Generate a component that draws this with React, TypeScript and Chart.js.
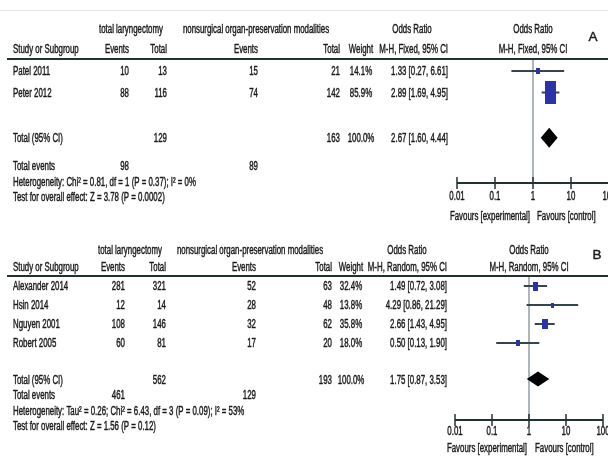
import React, { useEffect, useRef } from 'react';
import { Chart, registerables } from 'chart.js';

Chart.register(...registerables);

// ---------- Panel A (fixed-effect model) ----------
const STUDIES_A = ['Patel 2011', 'Peter 2012'];
const TL_EVENTS_A = [10, 88];
const TL_TOTAL_A = [13, 116];
const NS_EVENTS_A = [15, 74];
const NS_TOTAL_A = [21, 142];
const WEIGHT_A = [14.1, 85.9];
const OR_A = [1.33, 2.89];
const OR_LOW_A = [0.27, 1.69];
const OR_HIGH_A = [6.61, 4.95];
const POOLED_A = [2.67, 1.6, 4.44]; // estimate, lower, upper
const TOTALS_A = [129, 163];
const TOTAL_EVENTS_A = [98, 89];
const HETEROGENEITY_A = 'Heterogeneity: Chi² = 0.81, df = 1 (P = 0.37); I² = 0%';
const OVERALL_A = 'Test for overall effect: Z = 3.78 (P = 0.0002)';

// ---------- Panel B (random-effects model) ----------
const STUDIES_B = ['Alexander 2014', 'Hsin 2014', 'Nguyen 2001', 'Robert 2005'];
const TL_EVENTS_B = [281, 12, 108, 60];
const TL_TOTAL_B = [321, 14, 146, 81];
const NS_EVENTS_B = [52, 28, 32, 17];
const NS_TOTAL_B = [63, 48, 62, 20];
const WEIGHT_B = [32.4, 13.8, 35.8, 18.0];
const OR_B = [1.49, 4.29, 2.66, 0.5];
const OR_LOW_B = [0.72, 0.86, 1.43, 0.13];
const OR_HIGH_B = [3.08, 21.29, 4.95, 1.9];
const POOLED_B = [1.75, 0.87, 3.53];
const TOTALS_B = [562, 193];
const TOTAL_EVENTS_B = [461, 129];
const HETEROGENEITY_B = 'Heterogeneity: Tau² = 0.26; Chi² = 6.43, df = 3 (P = 0.09); I² = 53%';
const OVERALL_B = 'Test for overall effect: Z = 1.56 (P = 0.12)';

// ---------- shared axis ----------
const AXIS_TICKS = [0.01, 0.1, 1, 10, 100];
const AXIS_TICK_LABELS = ['0.01', '0.1', '1', '10', '100'];
const GROUP_TL = 'total laryngectomy';
const GROUP_NS = 'nonsurgical organ-preservation modalities';
const FAVOURS_LEFT = 'Favours [experimental]';
const FAVOURS_RIGHT = 'Favours [control]';

type PanelData = {
  letter: string;
  method: string;
  studies: string[];
  tlEvents: number[];
  tlTotal: number[];
  nsEvents: number[];
  nsTotal: number[];
  weight: number[];
  or: number[];
  lo: number[];
  hi: number[];
  pooled: number[];
  totals: number[];
  totalEvents: number[];
  het: string;
  overall: string;
};

const PANEL_A: PanelData = {
  letter: 'A', method: 'Fixed', studies: STUDIES_A, tlEvents: TL_EVENTS_A, tlTotal: TL_TOTAL_A,
  nsEvents: NS_EVENTS_A, nsTotal: NS_TOTAL_A, weight: WEIGHT_A, or: OR_A, lo: OR_LOW_A, hi: OR_HIGH_A,
  pooled: POOLED_A, totals: TOTALS_A, totalEvents: TOTAL_EVENTS_A, het: HETEROGENEITY_A, overall: OVERALL_A,
};

const PANEL_B: PanelData = {
  letter: 'B', method: 'Random', studies: STUDIES_B, tlEvents: TL_EVENTS_B, tlTotal: TL_TOTAL_B,
  nsEvents: NS_EVENTS_B, nsTotal: NS_TOTAL_B, weight: WEIGHT_B, or: OR_B, lo: OR_LOW_B, hi: OR_HIGH_B,
  pooled: POOLED_B, totals: TOTALS_B, totalEvents: TOTAL_EVENTS_B, het: HETEROGENEITY_B, overall: OVERALL_B,
};

type PanelLayout = {
  canvasW: number;
  canvasH: number;
  plotLeft: number;
  plotRight: number;
  plotTop: number;
  plotBottom: number;
  firstRowY: number;
  pitch: number;
  totalGap: number;
  header1Y: number;
  header2Y: number;
  letterX: number;
  letterY: number;
  colStudy: number;
  colTlEvents: number;
  colTlTotal: number;
  colNsEvents: number;
  colNsTotal: number;
  colWeight: number;
  colOr: number;
  orHeaderX: number;
  groupTlX: number;
  groupNsX: number;
  eventsDy: number;
  hetDy: number;
  overallDy: number;
  tickLabelDy: number;
  favoursDy: number;
  favoursLeftDx: number;
  favoursRightDx: number;
  squareMaxW: number;
  squareMaxH: number;
  diamondHalfH: number;
  topRuleY: number | null;
};

const LAYOUT_A: PanelLayout = {
  canvasW: 616, canvasH: 229,
  plotLeft: 457, plotRight: 609, plotTop: 59, plotBottom: 183,
  firstRowY: 71, pitch: 21.5, totalGap: 2.1,
  header1Y: 30, header2Y: 50, letterX: 593, letterY: 37,
  colStudy: 13, colTlEvents: 129, colTlTotal: 167, colNsEvents: 258, colNsTotal: 340,
  colWeight: 361, colOr: 448, orHeaderX: 412, groupTlX: 131, groupNsX: 256,
  eventsDy: 28, hetDy: 44, overallDy: 59,
  tickLabelDy: 14, favoursDy: 34, favoursLeftDx: -3, favoursRightDx: 4,
  squareMaxW: 11, squareMaxH: 23, diamondHalfH: 10,
  topRuleY: 10,
};

const LAYOUT_B: PanelLayout = {
  canvasW: 616, canvasH: 229,
  plotLeft: 455, plotRight: 603, plotTop: 47, plotBottom: 191,
  firstRowY: 57, pitch: 19, totalGap: 1.9,
  header1Y: 22, header2Y: 39, letterX: 597, letterY: 26,
  colStudy: 13, colTlEvents: 125, colTlTotal: 166, colNsEvents: 256, colNsTotal: 332,
  colWeight: 351, colOr: 447, orHeaderX: 407, groupTlX: 130, groupNsX: 250,
  eventsDy: 15, hetDy: 31, overallDy: 46,
  tickLabelDy: 12, favoursDy: 29, favoursLeftDx: -2, favoursRightDx: 6,
  squareMaxW: 5.5, squareMaxH: 10, diamondHalfH: 7.5,
  topRuleY: null,
};

const FONT_FAMILY = '"Liberation Sans", Arial, sans-serif';
const TEXT_SIZE = 12.5;
const TEXT_SQUEEZE = 0.63;
const TEXT_COLOR = '#1a1a1a';
const RULE_COLOR = '#223131';
const CI_COLOR = '#34464b';
const REF_COLOR = '#7f9095';
const SQUARE_COLOR = '#2b33a8';
const DIAMOND_COLOR = '#000000';

function drawText(
  ctx: CanvasRenderingContext2D,
  str: string,
  x: number,
  y: number,
  align: CanvasTextAlign,
  size = TEXT_SIZE,
  squeeze = TEXT_SQUEEZE,
) {
  ctx.save();
  ctx.translate(x, y);
  ctx.scale(squeeze, 1);
  ctx.font = `${size}px ${FONT_FAMILY}`;
  ctx.fillStyle = TEXT_COLOR;
  ctx.strokeStyle = TEXT_COLOR;
  ctx.lineWidth = 0.45;
  ctx.lineJoin = 'round';
  ctx.textAlign = align;
  ctx.textBaseline = 'middle';
  ctx.fillText(str, 0, 0);
  ctx.strokeText(str, 0, 0);
  ctx.restore();
}

function makeSquare(w: number, h: number): HTMLCanvasElement {
  const c = document.createElement('canvas');
  c.width = Math.max(3, Math.round(w));
  c.height = Math.max(4, Math.round(h));
  const g = c.getContext('2d')!;
  g.fillStyle = SQUARE_COLOR;
  g.fillRect(0, 0, c.width, c.height);
  return c;
}

const fmtOr = (v: number, lo: number, hi: number) => `${v.toFixed(2)} [${lo.toFixed(2)}, ${hi.toFixed(2)}]`;

function ForestPanel({ data, layout }: { data: PanelData; layout: PanelLayout }) {
  const ref = useRef<HTMLCanvasElement>(null);

  useEffect(() => {
    const canvas = ref.current;
    if (!canvas) return;
    const L = layout;
    const n = data.studies.length;
    const totalRow = n - 1 + L.totalGap;
    const yMin = (L.plotTop - L.firstRowY) / L.pitch;
    const yMax = (L.plotBottom - L.firstRowY) / L.pitch;
    const maxWeight = Math.max(...data.weight);
    const markers = data.weight.map((w) => {
      const r = w / maxWeight;
      return makeSquare(L.squareMaxW * Math.sqrt(r), L.squareMaxH * Math.pow(r, 0.75));
    });

    const datasets: any[] = data.studies.map((_, i) => ({
      type: 'line',
      data: [
        { x: data.lo[i], y: i },
        { x: data.hi[i], y: i },
      ],
      borderColor: CI_COLOR,
      borderWidth: 2,
      pointRadius: 0,
      fill: false,
      order: 2,
    }));
    datasets.push({
      type: 'scatter',
      data: data.or.map((v, i) => ({ x: v, y: i })),
      pointStyle: markers,
      pointRadius: 4,
      order: 0,
    });

    const tablePlugin = {
      id: 'forestTable',
      beforeDatasetsDraw(chart: any) {
        const { ctx, chartArea, scales } = chart;
        const refX = scales.x.getPixelForValue(1);
        ctx.save();
        ctx.strokeStyle = REF_COLOR;
        ctx.lineWidth = 1.3;
        ctx.beginPath();
        ctx.moveTo(refX, chartArea.top);
        ctx.lineTo(refX, chartArea.bottom);
        ctx.stroke();
        ctx.restore();
      },
      afterDatasetsDraw(chart: any) {
        const { ctx, chartArea, scales, width } = chart;
        const xs = scales.x;
        const ys = scales.y;
        const refX = xs.getPixelForValue(1);
        const rowY = (r: number) => ys.getPixelForValue(r) + 1;

        // pooled estimate diamond
        const dy = ys.getPixelForValue(totalRow);
        const [est, plo, phi] = data.pooled;
        ctx.save();
        ctx.fillStyle = DIAMOND_COLOR;
        ctx.beginPath();
        ctx.moveTo(xs.getPixelForValue(plo), dy);
        ctx.lineTo(xs.getPixelForValue(est), dy - L.diamondHalfH);
        ctx.lineTo(xs.getPixelForValue(phi), dy);
        ctx.lineTo(xs.getPixelForValue(est), dy + L.diamondHalfH);
        ctx.closePath();
        ctx.fill();
        ctx.restore();

        // rules
        ctx.save();
        if (L.topRuleY !== null) {
          ctx.strokeStyle = '#e6e6e6';
          ctx.lineWidth = 1;
          ctx.beginPath();
          ctx.moveTo(0, L.topRuleY + 0.5);
          ctx.lineTo(width, L.topRuleY + 0.5);
          ctx.stroke();
        }
        ctx.strokeStyle = RULE_COLOR;
        ctx.lineWidth = 2;
        ctx.beginPath();
        ctx.moveTo(7, chartArea.top);
        ctx.lineTo(width, chartArea.top);
        ctx.stroke();

        // x axis
        const axisY = chartArea.bottom;
        ctx.beginPath();
        ctx.moveTo(xs.getPixelForValue(AXIS_TICKS[0]), axisY);
        ctx.lineTo(xs.getPixelForValue(AXIS_TICKS[AXIS_TICKS.length - 1]), axisY);
        ctx.stroke();
        ctx.lineWidth = 1.5;
        AXIS_TICKS.forEach((t) => {
          const px = xs.getPixelForValue(t);
          ctx.beginPath();
          ctx.moveTo(px, axisY - 6);
          ctx.lineTo(px, axisY + 6);
          ctx.stroke();
        });
        ctx.restore();
        AXIS_TICKS.forEach((t, i) => {
          drawText(ctx, AXIS_TICK_LABELS[i], xs.getPixelForValue(t), axisY + L.tickLabelDy, 'center');
        });
        drawText(ctx, FAVOURS_LEFT, refX + L.favoursLeftDx, axisY + L.favoursDy, 'right');
        drawText(ctx, FAVOURS_RIGHT, refX + L.favoursRightDx, axisY + L.favoursDy, 'left');

        // headers
        const ci = `M-H, ${data.method}, 95% CI`;
        drawText(ctx, GROUP_TL, L.groupTlX, L.header1Y, 'center');
        drawText(ctx, GROUP_NS, L.groupNsX, L.header1Y, 'center');
        drawText(ctx, 'Odds Ratio', L.orHeaderX, L.header1Y, 'center');
        drawText(ctx, 'Odds Ratio', refX, L.header1Y, 'center');
        drawText(ctx, 'Study or Subgroup', L.colStudy, L.header2Y, 'left');
        drawText(ctx, 'Events', L.colTlEvents, L.header2Y, 'right');
        drawText(ctx, 'Total', L.colTlTotal, L.header2Y, 'right');
        drawText(ctx, 'Events', L.colNsEvents, L.header2Y, 'right');
        drawText(ctx, 'Total', L.colNsTotal, L.header2Y, 'right');
        drawText(ctx, 'Weight', L.colWeight, L.header2Y, 'center');
        drawText(ctx, ci, L.colOr, L.header2Y, 'right');
        drawText(ctx, ci, refX, L.header2Y, 'center');
        drawText(ctx, data.letter, L.letterX, L.letterY, 'center', 13.5, 1);

        // study rows
        data.studies.forEach((s, i) => {
          const y = rowY(i);
          drawText(ctx, s, L.colStudy, y, 'left');
          drawText(ctx, String(data.tlEvents[i]), L.colTlEvents, y, 'right');
          drawText(ctx, String(data.tlTotal[i]), L.colTlTotal, y, 'right');
          drawText(ctx, String(data.nsEvents[i]), L.colNsEvents, y, 'right');
          drawText(ctx, String(data.nsTotal[i]), L.colNsTotal, y, 'right');
          drawText(ctx, `${data.weight[i].toFixed(1)}%`, L.colWeight, y, 'center');
          drawText(ctx, fmtOr(data.or[i], data.lo[i], data.hi[i]), L.colOr, y, 'right');
        });

        // summary rows
        const ty = rowY(totalRow);
        const totalWeight = data.weight.reduce((a, b) => a + b, 0);
        drawText(ctx, 'Total (95% CI)', L.colStudy, ty, 'left');
        drawText(ctx, String(data.totals[0]), L.colTlTotal, ty, 'right');
        drawText(ctx, String(data.totals[1]), L.colNsTotal, ty, 'right');
        drawText(ctx, `${totalWeight.toFixed(1)}%`, L.colWeight, ty, 'center');
        drawText(ctx, fmtOr(est, plo, phi), L.colOr, ty, 'right');
        drawText(ctx, 'Total events', L.colStudy, ty + L.eventsDy, 'left');
        drawText(ctx, String(data.totalEvents[0]), L.colTlEvents, ty + L.eventsDy, 'right');
        drawText(ctx, String(data.totalEvents[1]), L.colNsEvents, ty + L.eventsDy, 'right');
        drawText(ctx, data.het, L.colStudy, ty + L.hetDy, 'left');
        drawText(ctx, data.overall, L.colStudy, ty + L.overallDy, 'left');
      },
    };

    const chart = new Chart(canvas, {
      type: 'scatter',
      data: { datasets },
      options: {
        responsive: false,
        animation: false,
        events: [],
        layout: {
          autoPadding: false,
          padding: {
            left: L.plotLeft,
            right: L.canvasW - L.plotRight,
            top: L.plotTop,
            bottom: L.canvasH - L.plotBottom,
          },
        },
        scales: {
          x: {
            type: 'logarithmic',
            min: AXIS_TICKS[0],
            max: AXIS_TICKS[AXIS_TICKS.length - 1],
            display: false,
          },
          y: { type: 'linear', reverse: true, min: yMin, max: yMax, display: false },
        },
        plugins: { legend: { display: false }, tooltip: { enabled: false } },
      } as any,
      plugins: [tablePlugin],
    });

    return () => chart.destroy();
  }, [data, layout]);

  return (
    <canvas
      ref={ref}
      width={layout.canvasW}
      height={layout.canvasH}
      style={{ display: 'block', width: layout.canvasW, height: layout.canvasH }}
    />
  );
}

export default function App() {
  useEffect(() => {
    const prev = document.body.style.margin;
    document.body.style.margin = '0';
    return () => {
      document.body.style.margin = prev;
    };
  }, []);

  return (
    <div style={{ width: 608, height: 458, overflow: 'hidden', background: '#ffffff' }}>
      <ForestPanel data={PANEL_A} layout={LAYOUT_A} />
      <ForestPanel data={PANEL_B} layout={LAYOUT_B} />
    </div>
  );
}
